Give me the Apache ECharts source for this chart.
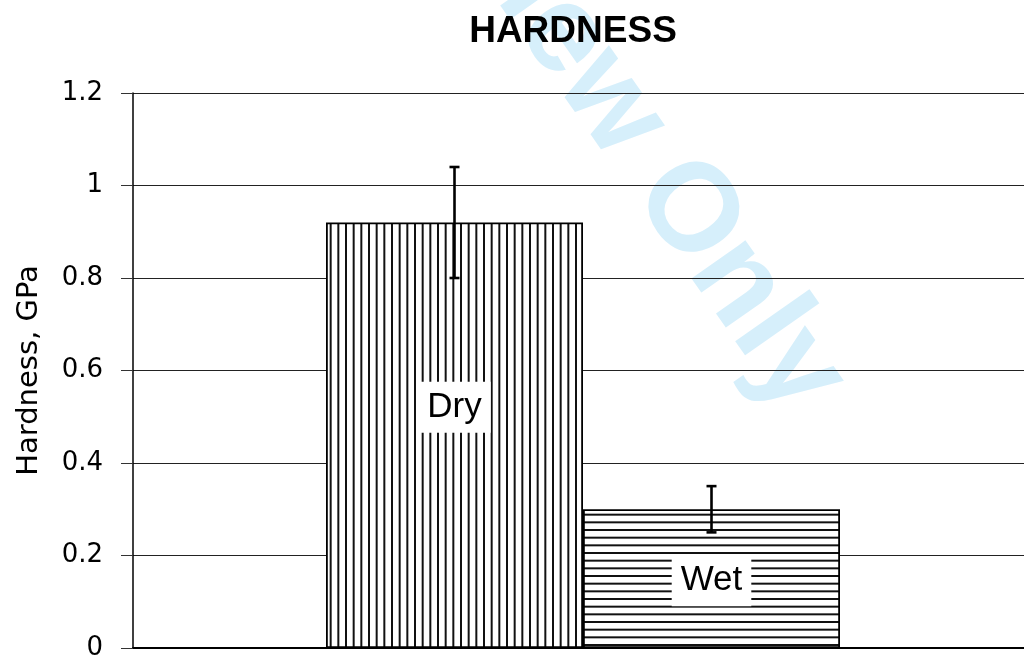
<!DOCTYPE html>
<html>
<head>
<meta charset="utf-8">
<script src="https://cdn.jsdelivr.net/npm/echarts@6/dist/echarts.min.js"></script>
<style>
  html, body { margin: 0; padding: 0; background: #fff; }
  #chart { width: 1024px; height: 659px; }
</style>
</head>
<body>
<div id="chart"></div>
<script>
// data
const categories = ['Dry', 'Wet'];
const hardness = [0.92, 0.30];
const errLow = [0.80, 0.25];
const errHigh = [1.04, 0.35];
const yTicks = { min: 0, max: 1.2, step: 0.2 };

const BAR_W = 257;

// stripe fill, like the old excel hatch
const makeStripes = (vertical) => {
  const c = document.createElement('canvas');
  const period = 23; // 3 lines per tile -> ~7.67px spacing
  c.width = vertical ? period : 4;
  c.height = vertical ? 4 : period;
  const ctx = c.getContext('2d');
  ctx.fillStyle = '#fff';
  ctx.fillRect(0, 0, c.width, c.height);
  ctx.strokeStyle = '#111';
  ctx.lineWidth = 2;
  for (let k = 0; k < 3; k++) {
    const p = 1 + k * period / 3;
    ctx.beginPath();
    if (vertical) { ctx.moveTo(p, 0); ctx.lineTo(p, c.height); }
    else { ctx.moveTo(0, p); ctx.lineTo(c.width, p); }
    ctx.stroke();
  }
  return { image: c, repeat: 'repeat' };
};

const chart = echarts.init(document.getElementById('chart'));

const labelStyle = (offsetY) => ({
  show: true,
  position: 'inside',
  offset: [0, offsetY],
  formatter: '{a}',
  color: '#000',
  fontFamily: 'Liberation Sans',
  fontSize: 35,
  lineHeight: 38,
  backgroundColor: '#fff',
  padding: [7, 9, 6, 9]
});

const barSeries = categories.map((name, i) => ({
  name: name,
  type: 'bar',
  data: [hardness[i]],
  barWidth: BAR_W,
  barGap: '0%',
  z: 2,
  itemStyle: {
    color: makeStripes(i === 0),
    borderColor: '#000',
    borderWidth: 1.8
  },
  label: labelStyle(i === 0 ? -28 : 2)
}));

const errData = categories.map((c, i) => [0, errLow[i], errHigh[i]]);

const option = {
  backgroundColor: '#fff',
  animation: false,
  title: {
    text: 'HARDNESS',
    left: 568,
    textAlign: 'center',
    top: 8,
    textStyle: { fontFamily: 'Liberation Sans', fontWeight: 'bold', fontSize: 37, color: '#000' }
  },
  graphic: [{
    type: 'text',
    x: 727,
    y: 290,
    rotation: -55 * Math.PI / 180,
    z: -10,
    silent: true,
    style: {
      text: 'Preview Only',
      x: -643,
      y: -12,
      align: 'left',
      verticalAlign: 'middle',
      fill: '#d6effb',
      font: 'bold 125px "Liberation Sans"'
    }
  }],
  // plot runs past the right edge of the picture
  grid: { left: 133, top: 93, width: 900, height: 555, outerBoundsMode: 'none' },
  xAxis: {
    type: 'category',
    data: [''],
    axisLine: { lineStyle: { color: '#000', width: 2 } },
    axisTick: { show: false },
    axisLabel: { show: false }
  },
  yAxis: {
    type: 'value',
    min: yTicks.min,
    max: yTicks.max,
    interval: yTicks.step,
    name: 'Hardness, GPa',
    nameLocation: 'middle',
    nameGap: 89,
    nameTextStyle: { fontFamily: 'DejaVu Sans', fontSize: 29, color: '#000' },
    axisLine: { show: true, lineStyle: { color: '#000', width: 1.5 } },
    axisTick: { show: true, length: 12, lineStyle: { color: '#333', width: 1 } },
    axisLabel: { fontFamily: 'DejaVu Sans', fontSize: 26, color: '#000', margin: 30 },
    splitLine: { lineStyle: { color: '#222', width: 1.2 } }
  },
  series: [
    ...barSeries,
    {
      type: 'custom',
      name: 'error',
      z: 5,
      data: errData,
      renderItem: (params, api) => {
        const shift = (params.dataIndex - (categories.length - 1) / 2) * BAR_W;
        const lo = api.coord([api.value(0), api.value(1)]);
        const hi = api.coord([api.value(0), api.value(2)]);
        const x = lo[0] + shift;
        const cap = 5;
        const style = { stroke: '#000', lineWidth: 2.6, fill: null };
        return {
          type: 'group',
          children: [
            { type: 'line', shape: { x1: x, y1: hi[1], x2: x, y2: lo[1] }, style },
            { type: 'line', shape: { x1: x - cap, y1: hi[1], x2: x + cap, y2: hi[1] }, style },
            { type: 'line', shape: { x1: x - cap, y1: lo[1], x2: x + cap, y2: lo[1] }, style }
          ]
        };
      }
    }
  ]
};

chart.setOption(option);
</script>
</body>
</html>
